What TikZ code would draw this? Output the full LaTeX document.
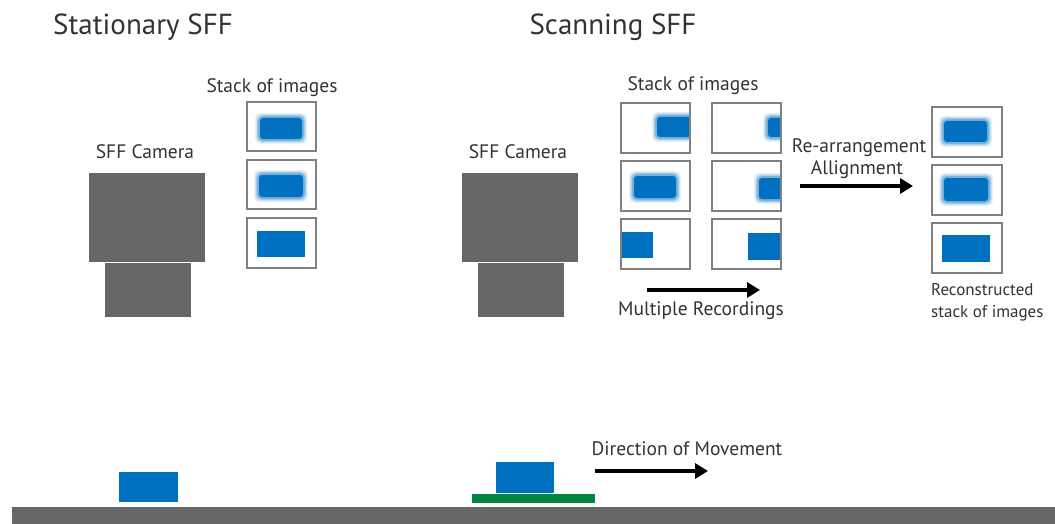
\documentclass[tikz,border=0pt]{standalone}
\usepackage{fontspec}
\setmainfont{PT Sans}
\usetikzlibrary{arrows.meta}
\definecolor{camgray}{HTML}{666666}
\definecolor{framegray}{HTML}{808080}
\definecolor{objblue}{HTML}{0070C0}
\definecolor{objgreen}{HTML}{00873F}
\definecolor{txtgray}{HTML}{333333}
\newcommand{\blurblob}[4]{%
  \foreach \e/\o in {4/0.08,3/0.12,2/0.18,1/0.28}{%
    \fill[objblue, opacity=\o, rounded corners=5pt] ({#1-\e},{#2-\e}) rectangle ({#3+\e},{#4+\e});}
  \fill[objblue, rounded corners=3pt] ({#1+1},{#2+1}) rectangle ({#3-1},{#4-1});}
\newcommand{\sharpblob}[4]{\fill[objblue] (#1,#2) rectangle (#3,#4);}
\tikzset{
  title/.style={font=\fontsize{29}{33}\selectfont, text=txtgray, anchor=base, inner sep=0pt},
  lbl/.style={font=\fontsize{19.5}{23}\selectfont, text=txtgray, anchor=base, inner sep=0pt},
  smalllbl/.style={font=\fontsize{17}{20}\selectfont, text=txtgray, anchor=base west, inner sep=0pt},
  frm/.style={draw=framegray, line width=2.5pt, fill=white},
  cam/.style={fill=camgray},
  bigarrow/.style={line width=3.8pt, -{Triangle[length=13pt,width=15pt]}},
}
\begin{document}
\begin{tikzpicture}[x=1pt,y=-1pt]
\useasboundingbox (0,0) rectangle (1055,524);
% titles
\node[title] (t1) at (143,35) {Stationary SFF};
\node[title] (t2) at (613,35) {Scanning SFF};
% stationary camera
\fill[cam] (89,173) rectangle (205,262);
\fill[cam] (105,263) rectangle (191,317);
\node[lbl] (c1) at (145,159) {SFF Camera};
\node[lbl] (s1) at (272,93) {Stack of images};
% stationary frames
\draw[frm] (247,102) rectangle (316,151);
\draw[frm] (247,160) rectangle (316,209);
\draw[frm] (247,218) rectangle (316,268);
\blurblob{259}{117}{303}{140}
\blurblob{258}{174}{304}{198}
\sharpblob{257}{231}{305}{257}
% scanning camera
\fill[cam] (462,173) rectangle (578,262);
\fill[cam] (478,263) rectangle (564,317);
\node[lbl] (c2) at (518,159) {SFF Camera};
\node[lbl] (s2) at (693,91) {Stack of images};
% scanning frames
\foreach \fx in {621,712}{
  \foreach \fy in {103,161,219}{
    \draw[frm] (\fx,\fy) rectangle (\fx+69,\fy+50);
  }
}
\begin{scope}
  \clip (621,103) rectangle (690,153);
  \blurblob{656}{116}{700}{138}
\end{scope}
\begin{scope}
  \clip (712,103) rectangle (781,153);
  \blurblob{767}{117}{800}{138}
\end{scope}
\blurblob{633}{175}{677}{199}
\begin{scope}
  \clip (712,161) rectangle (781,211);
  \blurblob{758}{177}{800}{200}
\end{scope}
\begin{scope}
  \clip (621,219) rectangle (690,269);
  \sharpblob{610}{232}{653}{258}
\end{scope}
\begin{scope}
  \clip (712,219) rectangle (781,269);
  \sharpblob{748}{233}{800}{260}
\end{scope}
% redraw frame borders of scanning frames above clipped blobs
\foreach \fx in {621,712}{
  \foreach \fy in {103,161,219}{
    \draw[draw=framegray, line width=2.5pt] (\fx,\fy) rectangle (\fx+69,\fy+50);
  }
}
% multiple recordings arrow
\coordinate (mr1) at (647,290);
\coordinate (mr2) at (760,290);
\draw[bigarrow] (mr1) -- (mr2);
\node[lbl] (mrl) at (701,315) {Multiple Recordings};
% re-arrangement arrow
\coordinate (ra1) at (800,186);
\coordinate (ra2) at (913,186);
\draw[bigarrow] (ra1) -- (ra2);
\node[lbl] (ral1) at (859,153) {Re-arrangement};
\node[lbl] (ral2) at (857,175) {Allignment};
% reconstructed frames
\draw[frm] (932,107) rectangle (1002,157);
\draw[frm] (932,165) rectangle (1002,215);
\draw[frm] (932,223) rectangle (1002,273);
\blurblob{943}{120}{988}{143}
\blurblob{943}{177}{989}{202}
\sharpblob{942}{235}{990}{262}
\node[smalllbl] (rc1) at (931,295) {Reconstructed};
\node[smalllbl] (rc2) at (931,317) {stack of images};
% ground
\fill[camgray] (12,507) rectangle (1055,524);
% stationary object
\fill[objblue] (119,472) rectangle (178,502);
% scanning object
\fill[objblue] (496,462) rectangle (554,493);
\fill[objgreen] (472,494) rectangle (595,503);
% direction arrow
\coordinate (dm1) at (595,471);
\coordinate (dm2) at (708,471);
\draw[bigarrow] (dm1) -- (dm2);
\node[lbl] (dml) at (687,455) {Direction of Movement};
\end{tikzpicture}
\end{document}
